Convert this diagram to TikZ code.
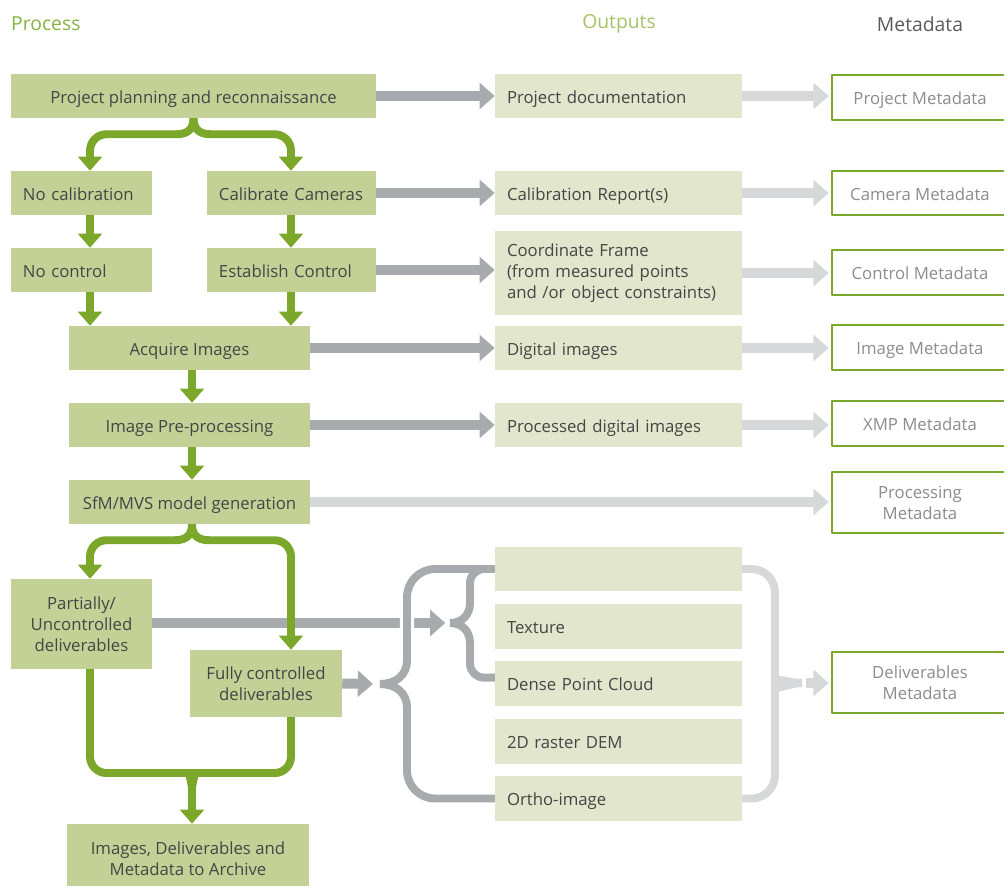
\documentclass[tikz,border=0pt]{standalone}
\usepackage{fontspec}
\setmainfont{Open Sans}
\usetikzlibrary{arrows.meta}
\usetikzlibrary{positioning}
\definecolor{procfill}{HTML}{C4D196}
\definecolor{outfill}{HTML}{E1E6CC}
\definecolor{gline}{HTML}{7BA72A}
\definecolor{dgray}{HTML}{A7ABAE}
\definecolor{lgray}{HTML}{D7D8DA}
\definecolor{boxtext}{HTML}{454545}
\definecolor{metatext}{HTML}{8C8C8C}
\definecolor{ttlgreen}{HTML}{86B440}
\definecolor{ttlgreenl}{HTML}{A6C266}
\definecolor{ttlgray}{HTML}{5A5A5A}

\begin{document}
\begin{tikzpicture}[x=0.03cm, y=-0.03cm, line join=round,
    every node/.style={font=\fontsize{14.3}{18}\selectfont},
    title/.style={font=\fontsize{16.5}{19}\selectfont, inner xsep=0pt},
    oneline/.style={text height=13pt, text depth=1pt},
    multiline/.style={text height=, text depth=},
    proc/.style={fill=procfill, text=boxtext, minimum height=1.32cm, inner xsep=0.36cm, inner ysep=0pt, align=center, oneline},
    outbox/.style={fill=outfill, text=boxtext, minimum height=1.32cm, text width=6.69cm, inner xsep=0.36cm, inner ysep=0pt, align=left, oneline},
    meta/.style={draw=gline, line width=1.7pt, fill=white, text=metatext, minimum width=5.28cm, minimum height=1.35cm, inner ysep=0pt, align=center, oneline},
    garrow/.style={draw=gline, line width=6.8pt, -{Triangle[width=20pt,length=12pt]}},
    glink/.style={draw=gline, line width=6.8pt},
    darrow/.style={draw=dgray, line width=8.5pt, -{Triangle[width=22pt,length=13pt]}},
    larrow/.style={draw=lgray, line width=8.5pt, -{Triangle[width=22pt,length=13pt]}, shorten >=2pt},
    dlink/.style={draw=dgray, line width=6.8pt},
    llink/.style={draw=lgray, line width=6.8pt}]
  \clip (0,0) rectangle (1004,885);
  %--- Titles
  \node[title, text=ttlgreen, anchor=west] (tproc) at (11,24) {Process};
  \node[title, text=ttlgreenl] (tout) at (619,24) {Outputs};
  \node[title, text=ttlgray] (tmeta) at (920,24) {Metadata};
  %--- Columns of the green flow
  \coordinate (colL) at (90,0);
  \coordinate (colM) at (192,0);
  \coordinate (colR) at (291,0);
  %--- Process
  \node[proc, minimum width=10.95cm] (plan) at (193.5,96) {Project planning and reconnaissance};
  \node[proc, text width=3.51cm, align=left] (nocal) at (81.5,193) {No calibration};
  \node[proc, text width=4.35cm, align=left] (calib) at (291.5,193) {Calibrate Cameras};
  \node[proc, text width=3.51cm, align=left] (nocon) at (81.5,270) {No control};
  \node[proc, text width=4.35cm, align=left] (estab) at (291.5,270) {Establish Control};
  \node[proc, minimum width=7.23cm] (acq) at (189.5,348) {Acquire Images};
  \node[proc, minimum width=7.23cm] (pre) at (189.5,425) {Image Pre-processing};
  \node[proc, minimum width=7.23cm] (sfm) at (189.5,502) {SfM/MVS model generation};
  \node[proc, multiline, minimum width=4.23cm, minimum height=2.7cm] (partial) at (81.5,624) {Partially/\\Uncontrolled\\deliverables};
  \node[proc, multiline, minimum width=4.56cm, minimum height=2.01cm] (fully) at (266,683.5) {Fully controlled\\deliverables};
  \node[proc, multiline, minimum width=7.26cm, minimum height=2.1cm] (archive) at (188,859) {Images, Deliverables and\\Metadata to Archive};
  %--- Outputs
  \node[outbox] (docu) at (618.5,96) {Project documentation};
  \node[outbox] (calrep) at (618.5,193) {Calibration Report(s)};
  \node[outbox, multiline, minimum height=2.52cm] (frame) at (618.5,273) {Coordinate Frame\\(from measured points\\and /or object constraints)};
  \node[outbox] (digim) at (618.5,348) {Digital images};
  \node[outbox] (procim) at (618.5,425) {Processed digital images};
  \node[outbox] (blank) at (618.5,569) {};
  \node[outbox, minimum height=1.35cm] (texture) at (618.5,626.5) {Texture};
  \node[outbox, minimum height=1.35cm] (dense) at (618.5,683.5) {Dense Point Cloud};
  \node[outbox, minimum height=1.35cm] (dem) at (618.5,741.5) {2D raster DEM};
  \node[outbox, minimum height=1.35cm] (ortho) at (618.5,798.5) {Ortho-image};
  %--- Metadata
  \node[meta] (projmeta) at (920,97) {Project Metadata};
  \node[meta, minimum height=1.32cm] (cammeta) at (920,193) {Camera Metadata};
  \node[meta] (conmeta) at (920,272.5) {Control Metadata};
  \node[meta] (imgmeta) at (920,347.5) {Image Metadata};
  \node[meta] (xmpmeta) at (920,423.5) {XMP Metadata};
  \node[meta, multiline, minimum height=1.83cm] (procmeta) at (920,502.5) {Processing\\Metadata};
  \node[meta, multiline, minimum height=1.83cm] (delmeta) at (920,682.5) {Deliverables\\Metadata};
  %--- Brace tips
  \coordinate (smalltip) at (450,623);
  \coordinate (bigtip) at (380,684);
  \coordinate (righttip) at (802,683);
  \coordinate (merge) at (192,790);
  %--- Process -> Outputs
  \draw[darrow] (plan.east) -- (docu.west);
  \draw[darrow] (calib.east) -- (calrep.west);
  \draw[darrow] (estab.east) -- (estab.east -| frame.west);
  \draw[darrow] (acq.east) -- (digim.west);
  \draw[darrow] (pre.east) -- (procim.west);
  \draw[darrow] (partial.east |- smalltip) -- ([xshift=-4pt]smalltip);
  \draw[darrow] (fully.east) -- ([xshift=-6pt]bigtip);
  %--- Outputs -> Metadata
  \draw[larrow] (docu.east) -- (docu.east -| projmeta.west);
  \draw[larrow] (calrep.east) -- (calrep.east -| cammeta.west);
  \draw[larrow] (frame.east) -- (frame.east -| conmeta.west);
  \draw[larrow] (digim.east) -- (digim.east -| imgmeta.west);
  \draw[larrow] (procim.east) -- (procim.east -| xmpmeta.west);
  \draw[larrow] (sfm.east) -- (sfm.east -| procmeta.west);
  %--- Deliverable braces
  \draw[dlink, preaction={draw=white, line width=12pt}] (bigtip) .. controls (395,684) and (407,676) .. (407,660) [rounded corners=24pt] |- (blank.west);
  \draw[dlink] (bigtip) .. controls (395,684) and (407,692) .. (407,708) [rounded corners=24pt] |- (ortho.west);
  \draw[dlink] (smalltip) .. controls (462,623) and (470,615) .. (470,603) [rounded corners=12pt] |- (blank.west);
  \draw[dlink] (smalltip) .. controls (462,623) and (470,631) .. (470,643) [rounded corners=12pt] |- ([yshift=5pt]dense.west);
  \draw[llink] (blank.east) [rounded corners=20pt] -| (775,660) [sharp corners] .. controls (775,676) and (788,683) .. (righttip);
  \draw[llink] (ortho.east) [rounded corners=20pt] -| (775,708) [sharp corners] .. controls (775,692) and (788,683) .. (righttip);
  \draw[larrow, shorten <=3pt] (righttip) -- (righttip -| delmeta.west);
  %--- Process flow
  \draw[garrow] (plan.south) .. controls +(0,10) and +(12,0) .. ++(-17,16) [rounded corners=14pt] -| (nocal.north -| colL);
  \draw[garrow] (plan.south) .. controls +(0,10) and +(-12,0) .. ++(17,16) [rounded corners=14pt] -| (calib.north -| colR);
  \draw[garrow] (nocal.south -| colL) -- (nocon.north -| colL);
  \draw[garrow] (calib.south -| colR) -- (estab.north -| colR);
  \draw[garrow] (nocon.south -| colL) -- (acq.north -| colL);
  \draw[garrow] (estab.south -| colR) -- (acq.north -| colR);
  \draw[garrow] (acq.south -| colM) -- (pre.north -| colM);
  \draw[garrow] (pre.south -| colM) -- (sfm.north -| colM);
  \draw[garrow] (sfm.south -| colM) .. controls +(0,10) and +(12,0) .. ++(-17,16) [rounded corners=14pt] -| (partial.north -| colL);
  \draw[garrow] (sfm.south -| colM) .. controls +(0,10) and +(-12,0) .. ++(17,16) [rounded corners=14pt] -| (fully.north -| colR);
  \draw[glink] (fully.south -| colR) [rounded corners=14pt] |- (209,773) [sharp corners] .. controls +(-12,0) and +(0,-10) .. (merge);
  \draw[garrow] (partial.south -| colL) [rounded corners=14pt] |- (175,773) [sharp corners] .. controls +(12,0) and +(0,-10) .. (merge) -- (archive.north -| merge);
\end{tikzpicture}
\end{document}
